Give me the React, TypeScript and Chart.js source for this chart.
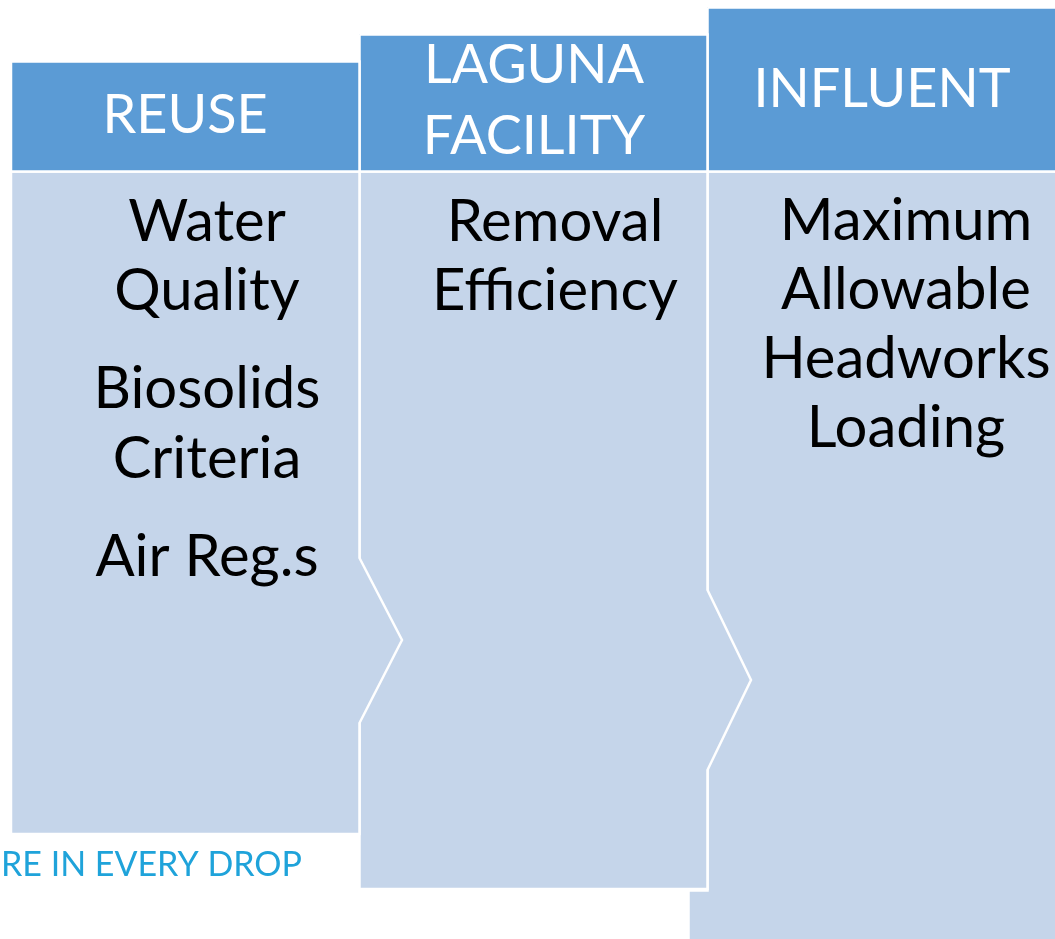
import React, { useEffect, useRef } from "react";
import { Chart, registerables } from "chart.js";

Chart.register(...registerables);

// ---- diagram data (page pixel coordinates, y grows downward) ----
const columnNames = ["REUSE", "LAGUNA FACILITY", "INFLUENT"];
const columnEdges = [11, 359.5, 707.5, 1057];
const headerTops = [61.5, 34.5, 7.5];
const headerBottom = 171.5;
const bodyBottoms = [834, 889, 941];
const arrowStarts = [558, 590];
const arrowTips = [640, 680];
const arrowEnds = [723, 770];
const arrowTipX = [402, 751];
const stepLeft = 688.5;
const stepTop = 890.5;

const headerLines = [["REUSE"], ["LAGUNA", "FACILITY"], ["INFLUENT"]];
const headerBaselines = [[133], [83, 154], [107]];
const headerCenters = [185, 534, 882];

const bodyLines = [
  ["Water", "Quality", "Biosolids", "Criteria", "Air Reg.s"],
  ["Removal", "Efficiency"],
  ["Maximum", "Allowable", "Headworks", "Loading"],
];
const bodyBaselines = [
  [241, 310, 408, 478, 576],
  [241, 310],
  [240, 309, 378, 447],
];
const bodyCenters = [207, 555, 906];

const footerText = "RE IN EVERY DROP";
const footerPos = [1, 876];

const HEADER_COLOR = "#5B9BD5";
const BODY_COLOR = "#C5D5EA";

type P = { x: number; y: number };

function bodyShape(i: number): P[] {
  const l = columnEdges[i];
  const r = columnEdges[i + 1];
  const pts: P[] = [
    { x: l, y: headerBottom },
    { x: r, y: headerBottom },
  ];
  if (i < 2) {
    pts.push({ x: r, y: arrowStarts[i] });
    pts.push({ x: arrowTipX[i], y: arrowTips[i] });
    pts.push({ x: r, y: arrowEnds[i] });
    pts.push({ x: r, y: bodyBottoms[i] });
    pts.push({ x: l, y: bodyBottoms[i] });
  } else {
    pts.push({ x: r, y: bodyBottoms[i] });
    pts.push({ x: stepLeft, y: bodyBottoms[i] });
    pts.push({ x: stepLeft, y: stepTop });
    pts.push({ x: l, y: stepTop });
  }
  pts.push({ x: l, y: headerBottom });
  return pts;
}

function headerShape(i: number): P[] {
  const l = columnEdges[i];
  const r = columnEdges[i + 1];
  const t = headerTops[i];
  return [
    { x: l, y: t },
    { x: r, y: t },
    { x: r, y: headerBottom },
    { x: l, y: headerBottom },
    { x: l, y: t },
  ];
}

const FONT = "Lato, 'Open Sans', sans-serif";

const textPlugin = {
  id: "diagramText",
  afterDatasetsDraw(chart: any) {
    const ctx = chart.ctx;
    const xs = chart.scales.x;
    const ys = chart.scales.y;
    ctx.save();
    ctx.textAlign = "center";
    ctx.textBaseline = "alphabetic";
    ctx.font = `400 54px ${FONT}`;
    ctx.fillStyle = "#FFFFFF";
    headerLines.forEach((lines, i) => {
      lines.forEach((t, j) => {
        ctx.fillText(t, xs.getPixelForValue(headerCenters[i]), ys.getPixelForValue(headerBaselines[i][j]));
      });
    });
    ctx.fillStyle = "#000000";
    ctx.font = `400 58px ${FONT}`;
    bodyLines.forEach((lines, i) => {
      lines.forEach((t, j) => {
        ctx.fillText(t, xs.getPixelForValue(bodyCenters[i]), ys.getPixelForValue(bodyBaselines[i][j]));
      });
    });
    ctx.textAlign = "left";
    ctx.fillStyle = "#1FA3DA";
    ctx.font = `400 34px ${FONT}`;
    ctx.fillText(footerText, xs.getPixelForValue(footerPos[0]), ys.getPixelForValue(footerPos[1]));
    ctx.restore();
  },
};

export default function App() {
  const ref = useRef<HTMLCanvasElement>(null);
  useEffect(() => {
    document.body.style.margin = "0";
    const datasets: any[] = [];
    const order = [2, 1, 0];
    order.forEach((i, k) => {
      datasets.push({
        label: columnNames[i] + " body",
        data: bodyShape(i),
        order: 20 - k,
      });
    });
    [0, 1, 2].forEach((i) => {
      datasets.push({
        label: columnNames[i] + " header",
        data: headerShape(i),
        order: 5,
        backgroundColor: HEADER_COLOR,
      });
    });
    datasets.forEach((d) => {
      d.fill = "shape";
      if (!d.backgroundColor) d.backgroundColor = BODY_COLOR;
      d.borderColor = "#FFFFFF";
      d.borderWidth = 2.5;
      d.pointRadius = 0;
      d.tension = 0;
      d.borderJoinStyle = "miter";
      d.clip = false;
    });
    const chart = new Chart(ref.current!, {
      type: "line",
      data: { datasets },
      options: {
        animation: false,
        responsive: true,
        maintainAspectRatio: false,
        devicePixelRatio: 1,
        layout: { padding: 0 },
        plugins: { legend: { display: false }, tooltip: { enabled: false } },
        scales: {
          x: { type: "linear", min: 0, max: 1055, display: false },
          y: { type: "linear", min: 0, max: 939, reverse: true, display: false },
        },
      },
      plugins: [textPlugin],
    });
    return () => chart.destroy();
  }, []);
  return (
    <div style={{ position: "absolute", left: 0, top: 0, width: 1055, height: 939, background: "#fff" }}>
      <canvas ref={ref} />
    </div>
  );
}
